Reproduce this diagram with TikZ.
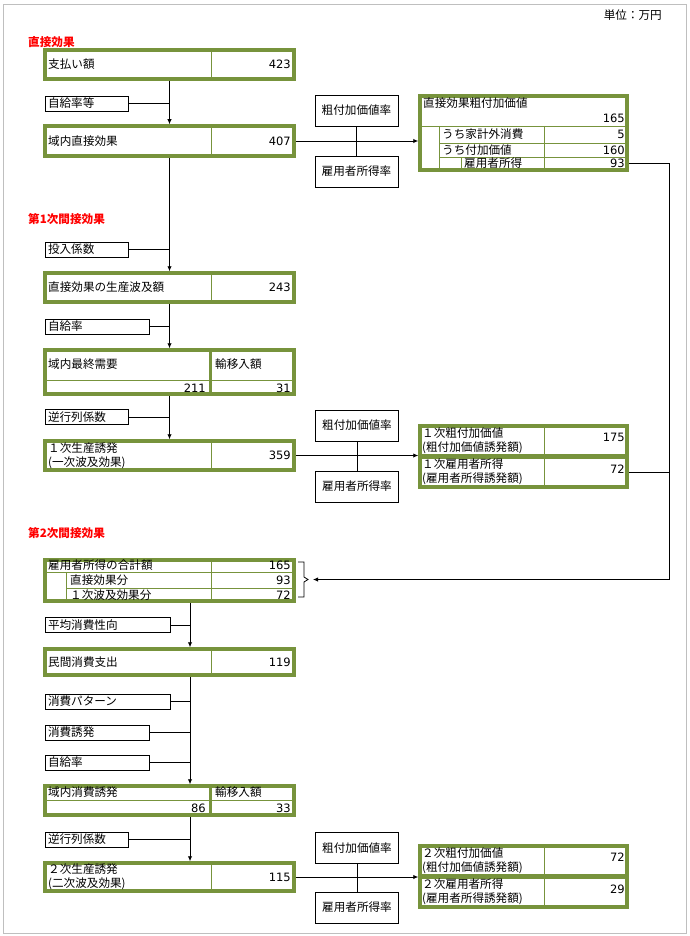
\documentclass[tikz,border=0pt]{standalone}
\usepackage{fontspec}
\setmainfont{Noto Sans CJK JP}
\newfontfamily\numfont{DejaVu Sans}
\usepackage{xcolor}
\usetikzlibrary{arrows.meta,positioning,calc}
\definecolor{boxgreen}{RGB}{119,147,60}

\begin{document}
\begin{tikzpicture}[
    x=1pt, y=-1pt,
    font=\fontsize{11.6}{14}\selectfont,
    gbox/.style={rectangle, draw=boxgreen, line width=3.5pt, inner sep=0pt},
    cell/.style={draw=boxgreen, line width=0.8pt},
    mid/.style={draw=boxgreen, line width=2.5pt},
    lbl/.style={rectangle, draw=black, line width=0.9pt, inner xsep=3pt, inner ysep=0pt, minimum height=15pt, align=left},
    rate/.style={rectangle, draw=black, line width=0.9pt, minimum width=83pt, minimum height=31pt, inner sep=0pt},
    txt/.style={anchor=west, inner sep=0pt, align=left},
    val/.style={anchor=east, inner sep=0pt, font=\numfont\fontsize{11.5}{14}\selectfont},
    head/.style={anchor=west, inner sep=0pt, text=red, font=\bfseries\fontsize{11.6}{14}\selectfont},
    arr/.style={-{Latex[length=5pt,width=4.5pt]}, line width=0.9pt},
    conn/.style={line width=0.9pt}
]
    \useasboundingbox (0,0) rectangle (689,936);
    \draw [gray!50, line width=1pt] (3,5) rectangle (686,933);
    \node [anchor=east, inner sep=0pt] (unit) at (662,15) {単位：万円};

    \coordinate (spine) at (190,0);
    \coordinate (rail) at (669,163.5);
    \coordinate (brk) at (313,579.5);

    \node [head] (h1) at (28,42) {直接効果};
    \node [gbox, minimum width=249pt, minimum height=29pt] (pay) at (169.5,64.5) {};
    \draw [cell] (211,50) -- (211,79);
    \node [txt] (payt) at (48,64.5) {支払い額};
    \node [val] (payv) at (291,64.5) {423};

    \node [lbl, text width=77pt] (jik1) at (86.5,103.5) {自給率等};
    \node [gbox, minimum width=249pt, minimum height=30pt] (dom) at (169.5,141) {};
    \draw [cell] (211,126) -- (211,156);
    \node [txt] (domt) at (48,141) {域内直接効果};
    \node [val] (domv) at (291,141) {407};
    \draw [arr] (pay.south) -- (dom.north);
    \draw [conn] (jik1.east) -- (jik1.east -| pay.south);

    \node [rate] (va1) at (356.5,110.5) {粗付加価値率};
    \node [rate] (emp1) at (356.5,171.5) {雇用者所得率};
    \draw [conn] (va1) -- (emp1);
    \node [gbox, minimum width=207pt, minimum height=74pt] (gva) at (523.5,133) {};
    \draw [cell] (420,126) -- (627,126);
    \draw [cell] (439,126) -- (439,170) (544,126) -- (544,170);
    \draw [cell] (439,143) -- (627,143) (439,157) -- (627,157);
    \draw [cell] (461,157) -- (461,170);
    \node [txt] (gvat) at (423,103) {直接効果粗付加価値};
    \node [val] (gvav) at (625,118) {165};
    \node [txt] (hht) at (442,134.5) {うち家計外消費};
    \node [val] (hhv) at (625,134.5) {5};
    \node [txt] (vat) at (442,150) {うち付加価値};
    \node [val] (vav) at (625,150) {160};
    \node [txt] (wage0t) at (464,163.5) {雇用者所得};
    \node [val] (wage0) at (625,163.5) {93};
    \draw [arr] (dom.east) -- (dom.east -| gva.west);

    \node [head] (h2) at (28,219) {第1次間接効果};
    \node [lbl, text width=77pt] (inp) at (86.5,249.5) {投入係数};
    \node [gbox, minimum width=249pt, minimum height=29pt] (ind) at (169.5,287.5) {};
    \draw [cell] (211,273) -- (211,302);
    \node [txt] (indt) at (48,287.5) {直接効果の生産波及額};
    \node [val] (indv) at (291,287.5) {243};
    \draw [arr] (dom.south) -- (ind.north);
    \draw [conn] (inp.east) -- (inp.east -| dom.south);

    \node [lbl, text width=98pt] (jik2) at (97,326.5) {自給率};
    \node [gbox, minimum width=249pt, minimum height=44pt] (fin) at (169.5,372) {};
    \draw [cell] (45,380) -- (294,380);
    \draw [mid] (210.5,350) -- (210.5,394);
    \node [txt] (fint) at (48,364) {域内最終需要};
    \node [txt] (imp1t) at (215,364) {輸移入額};
    \node [val] (finv) at (206,388) {211};
    \node [val] (imp1v) at (291,388) {31};
    \draw [arr] (ind.south) -- (fin.north);
    \draw [conn] (jik2.east) -- (jik2.east -| ind.south);

    \node [lbl, text width=77pt] (inv1) at (86.5,417) {逆行列係数};
    \node [gbox, minimum width=249pt, minimum height=29pt] (ind1) at (169.5,455.5) {};
    \draw [cell] (211,441) -- (211,470);
    \node [txt] (ind1t) at (48,455.5) {１次生産誘発\\(一次波及効果)};
    \node [val] (ind1v) at (291,455.5) {359};
    \draw [arr] (fin.south) -- (ind1.north);
    \draw [conn] (inv1.east) -- (inv1.east -| fin.south);

    \node [rate] (va2) at (357,425.5) {粗付加価値率};
    \node [rate] (emp2) at (357,486.5) {雇用者所得率};
    \draw [conn] (va2) -- (emp2);
    \node [gbox, minimum width=207pt, minimum height=30pt] (gva1) at (523.5,441) {};
    \node [gbox, minimum width=207pt, minimum height=30pt] (wage1) at (523.5,472) {};
    \draw [cell] (544,426) -- (544,456) (544,457) -- (544,487);
    \node [txt] (gva1t) at (422,440.5) {１次粗付加価値\\(粗付加価値誘発額)};
    \node [val] (gva1v) at (625,437) {175};
    \node [txt] (wage1t) at (422,471.5) {１次雇用者所得\\(雇用者所得誘発額)};
    \node [val] (wage1v) at (625,469) {72};
    \draw [arr] (ind1.east) -- (ind1.east -| gva1.west);

    \node [head] (h3) at (28,533) {第2次間接効果};
    \node [gbox, minimum width=249pt, minimum height=41pt] (wsum) at (169.5,580.5) {};
    \draw [cell] (45,572) -- (294,572) (66,588) -- (294,588);
    \draw [cell] (66,572) -- (66,601) (211,560) -- (211,601);
    \node [txt] (wsumt) at (48,565) {雇用者所得の合計額};
    \node [val] (wsumv) at (291,565) {165};
    \node [txt] (wdirt) at (70,580) {直接効果分};
    \node [val] (wdirv) at (291,580) {93};
    \node [txt] (wfirt) at (70,595) {１次波及効果分};
    \node [val] (wfirv) at (291,595) {72};
    \draw [line width=0.8pt] (298,562) -- (304,562) -- (304,577) -- (308,579.5) -- (304,582) -- (304,597) -- (298,597);
    \draw [arr] (wage0.east -| gva.east) -- (rail) |- (brk);
    \draw [conn] (wage1.east) -- (wage1.east -| rail);

    \node [lbl, text width=119pt] (mpc) at (107.5,625) {平均消費性向};
    \node [gbox, minimum width=249pt, minimum height=26pt] (cons) at (169.5,662) {};
    \draw [cell] (211,649) -- (211,675);
    \node [txt] (const) at (48,662) {民間消費支出};
    \node [val] (consv) at (291,662) {119};
    \draw [arr] (wsum.south -| spine) -- (cons.north -| spine);
    \draw [conn] (mpc.east) -- (mpc.east -| spine);

    \node [lbl, text width=119pt] (pat) at (107.5,701.5) {消費パターン};
    \node [lbl, text width=98pt] (indc) at (97,732.5) {消費誘発};
    \node [lbl, text width=98pt] (jik3) at (97,762.5) {自給率};
    \node [gbox, minimum width=249pt, minimum height=29pt] (dcon) at (169.5,800.5) {};
    \draw [cell] (45,800) -- (294,800);
    \draw [mid] (210.5,786) -- (210.5,815);
    \node [txt] (dcont) at (48,792.5) {域内消費誘発};
    \node [txt] (imp2t) at (215,792.5) {輸移入額};
    \node [val] (dconv) at (206,808) {86};
    \node [val] (imp2v) at (291,808) {33};
    \draw [arr] (cons.south -| spine) -- (dcon.north -| spine);
    \foreach \n in {pat,indc,jik3}
        \draw [conn] (\n.east) -- (\n.east -| spine);

    \node [lbl, text width=77pt] (inv2) at (86.5,839.5) {逆行列係数};
    \node [gbox, minimum width=249pt, minimum height=28pt] (ind2) at (169.5,877) {};
    \draw [cell] (211,863) -- (211,891);
    \node [txt] (ind2t) at (48,877) {２次生産誘発\\(二次波及効果)};
    \node [val] (ind2v) at (291,877) {115};
    \draw [arr] (dcon.south -| spine) -- (ind2.north -| spine);
    \draw [conn] (inv2.east) -- (inv2.east -| spine);

    \node [rate] (va3) at (357,848) {粗付加価値率};
    \node [rate] (emp3) at (357,907.5) {雇用者所得率};
    \draw [conn] (va3) -- (emp3);
    \node [gbox, minimum width=207pt, minimum height=30pt] (gva2) at (523.5,861) {};
    \node [gbox, minimum width=207pt, minimum height=30pt] (wage2) at (523.5,892) {};
    \draw [cell] (544,846) -- (544,876) (544,877) -- (544,907);
    \node [txt] (gva2t) at (422,860.5) {２次粗付加価値\\(粗付加価値誘発額)};
    \node [val] (gva2v) at (625,857) {72};
    \node [txt] (wage2t) at (422,891.5) {２次雇用者所得\\(雇用者所得誘発額)};
    \node [val] (wage2v) at (625,889) {29};
    \draw [arr] (ind2.east) -- (ind2.east -| gva2.west);
\end{tikzpicture}
\end{document}
